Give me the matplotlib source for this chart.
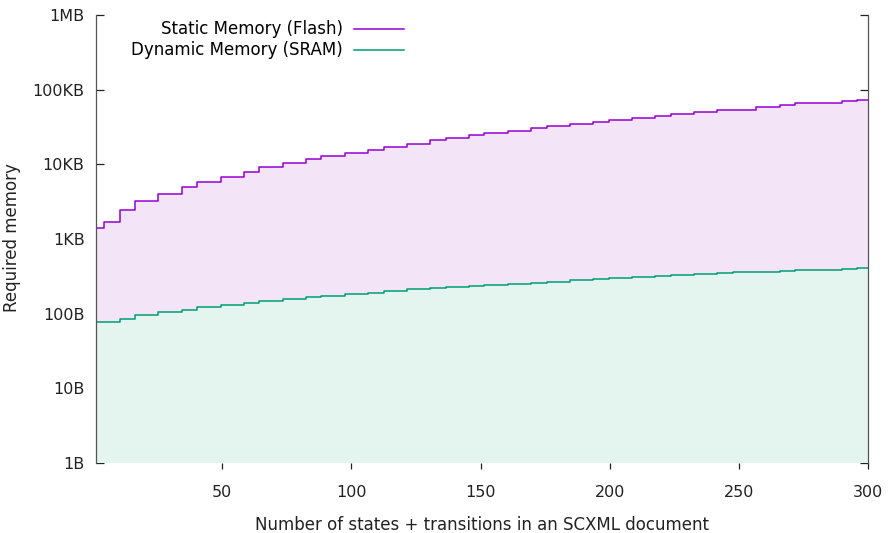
import matplotlib
matplotlib.use("Agg")
import matplotlib.pyplot as plt

# step start positions (states + transitions)
xs = [1, 4.1, 10.3, 16.2, 25.3, 34.3, 40.4, 49.4, 58.4, 64.4, 73.4, 82.4, 88.4,
      97.4, 106.4, 112.6, 121.5, 130.5, 136.5, 145.5, 151.5, 160.5, 169.5, 175.6,
      184.5, 193.6, 199.6, 208.7, 217.7, 223.7, 232.7, 241.7, 247.7, 256.8, 265.8,
      271.8, 280.8, 289.8, 295.8, 300]

# bytes
flash = [1390, 1706, 2422, 3260, 3965, 5012, 5850, 6830, 7820, 9300, 10310, 11670,
         13050, 14320, 15800, 17300, 18890, 21170, 22740, 24720, 26510, 28190, 30350,
         32580, 34650, 36870, 39180, 41690, 43950, 46730, 49720, 52880, 53870, 58600,
         62270, 65600, 66900, 69870, 73200, 73200]
sram = [77, 77, 86, 95, 104, 112, 122, 131, 140, 148, 156, 166, 174, 183, 191, 201,
        212, 221, 230, 237, 242, 252, 260, 268, 280, 289, 298, 307, 319, 329, 340,
        350, 358, 366, 374, 381, 390, 398, 405, 405]

ytick_vals = [1, 10, 100, 1e3, 1e4, 1e5, 1e6]
ytick_labels = ["1B", "10B", "100B", "1KB", "10KB", "100KB", "1MB"]
xtick_vals = [50, 100, 150, 200, 250, 300]

plt.rcParams['font.family'] = ['DejaVu Sans']
plt.rcParams['font.size'] = 11.5

fig = plt.figure(figsize=(8.92, 5.33), dpi=100)
ax = fig.add_axes([95.7 / 892, 1 - 463 / 533, 772.3 / 892, 448 / 533])

ax.fill_between(xs, 1, flash, step='post', color='#f3e5f7', lw=0, zorder=1)
ax.fill_between(xs, 1, sram, step='post', color='#e4f4ee', lw=0, zorder=1.1)
l1, = ax.step(xs, flash, where='post', color='#9400d3', lw=1.1, zorder=2)
l2, = ax.step(xs, sram, where='post', color='#009e73', lw=1.1, zorder=2)

ax.set_yscale('log')
ax.set_ylim(1, 1e6)
ax.set_xlim(1, 300)
ax.set_yticks(ytick_vals)
ax.set_yticklabels(ytick_labels)
ax.yaxis.set_minor_locator(matplotlib.ticker.NullLocator())
ax.set_xticks(xtick_vals)
ax.set_axisbelow(True)
ax.yaxis.set_zorder(0.5)

ax.tick_params(axis='y', direction='in', left=True, right=True, length=5.5,
               width=0.9, pad=8, colors='#222222')
ax.tick_params(axis='x', direction='out', bottom=True, top=False, length=4,
               width=0.9, pad=12, colors='#222222')

for s in ['top', 'bottom']:
    ax.spines[s].set_visible(False)
for s in ['left', 'right']:
    ax.spines[s].set_color('#555555')
    ax.spines[s].set_linewidth(0.9)

ax.set_xlabel("Number of states + transitions in an SCXML document", labelpad=11,
              color='#222222', fontsize=12)
ax.set_ylabel("Required memory", color='#222222', fontsize=12)
ax.yaxis.set_label_coords(-0.097, 0.504)

leg_kw = dict(loc='upper right', markerfirst=False, frameon=False, borderpad=0,
              handlelength=3.0, handletextpad=0.7, borderaxespad=0, fontsize=12)
leg1 = ax.legend([l1], ["Static Memory (Flash)"], bbox_to_anchor=(0.3996, 0.988), **leg_kw)
ax.add_artist(leg1)
ax.legend([l2], ["Dynamic Memory (SRAM)"], bbox_to_anchor=(0.3996, 0.941), **leg_kw)

fig.savefig("out.png", dpi=100)
